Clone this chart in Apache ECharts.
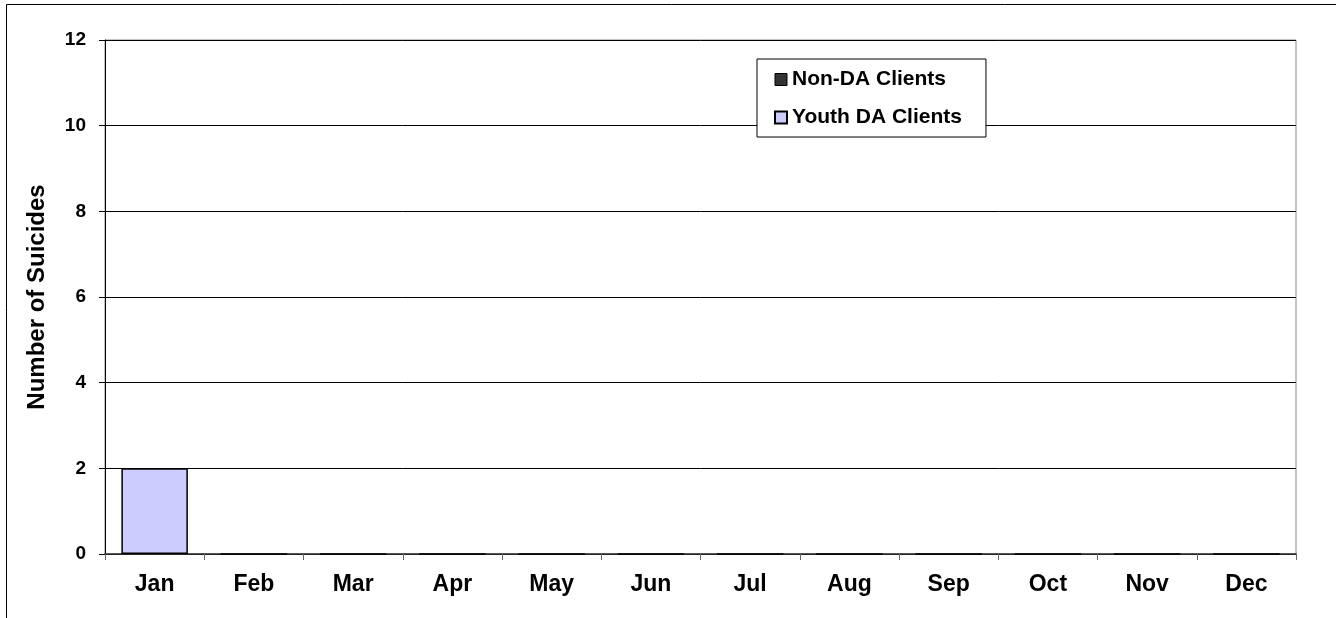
<!DOCTYPE html>
<html>
<head>
<meta charset="utf-8">
<script src="https://cdn.jsdelivr.net/npm/echarts@6/dist/echarts.min.js"></script>
<style>
  html, body { margin: 0; padding: 0; background: #fff; }
  #chart { width: 1336px; height: 618px; }
</style>
</head>
<body>
<div id="chart"></div>
<script>
// data
var months = ['Jan', 'Feb', 'Mar', 'Apr', 'May', 'Jun', 'Jul', 'Aug', 'Sep', 'Oct', 'Nov', 'Dec'];
var nonDaClients = [0, 0, 0, 0, 0, 0, 0, 0, 0, 0, 0, 0];
var youthDaClients = [2, 0, 0, 0, 0, 0, 0, 0, 0, 0, 0, 0];

var font = 'Liberation Sans, Arial, sans-serif';

var chart = echarts.init(document.getElementById('chart'));
chart.setOption({
  animation: false,
  backgroundColor: '#fff',
  textStyle: { fontFamily: font },
  // outer frame of the chart area (only top and left edges show)
  graphic: [{
    type: 'rect',
    shape: { x: 6.5, y: 4.5, width: 1400, height: 700 },
    style: { fill: null, stroke: '#000', lineWidth: 1 },
    silent: true
  }],
  grid: {
    left: 105, right: 40, top: 40, bottom: 64,
    show: true, borderColor: '#888', borderWidth: 1, backgroundColor: '#fff'
  },
  legend: {
    orient: 'vertical',
    left: 757, top: 59,
    icon: 'rect',
    itemWidth: 12, itemHeight: 12,
    itemGap: 17,
    padding: [10, 24, 9, 17],
    backgroundColor: '#fff',
    borderColor: '#000',
    borderWidth: 1,
    textStyle: { fontFamily: font, fontWeight: 'bold', fontSize: 21, color: '#000' },
    data: [
      { name: 'Non-DA Clients', itemStyle: { borderColor: '#000', borderWidth: 1 } },
      { name: 'Youth DA Clients' }
    ]
  },
  xAxis: {
    type: 'category',
    data: months,
    axisLine: { lineStyle: { color: '#333', width: 1.5 } },
    axisTick: { show: true, length: 6, lineStyle: { color: '#666' } },
    axisLabel: { color: '#000', fontWeight: 'bold', fontSize: 23, margin: 19, fontFamily: font }
  },
  yAxis: {
    type: 'value',
    min: 0, max: 12, interval: 2,
    name: 'Number of Suicides',
    nameLocation: 'middle',
    nameGap: 56,
    nameTextStyle: { color: '#000', fontWeight: 'bold', fontSize: 24, fontFamily: font },
    axisLine: { show: true, lineStyle: { color: '#000', width: 1 } },
    axisTick: { show: true, length: 6, lineStyle: { color: '#000' } },
    axisLabel: { color: '#000', fontWeight: 'bold', fontSize: 19, margin: 19, fontFamily: font },
    splitLine: { show: true, lineStyle: { color: '#000', width: 1 } }
  },
  series: [{
    name: 'Non-DA Clients',
    type: 'bar',
    stack: 'total',
    barWidth: '67%',
    data: nonDaClients,
    itemStyle: { color: '#333333', borderWidth: 0 }
  }, {
    name: 'Youth DA Clients',
    type: 'bar',
    stack: 'total',
    barWidth: '67%',
    data: youthDaClients,
    itemStyle: { color: '#CCCCFF', borderColor: '#000', borderWidth: 1.5 }
  }]
});
</script>
</body>
</html>
